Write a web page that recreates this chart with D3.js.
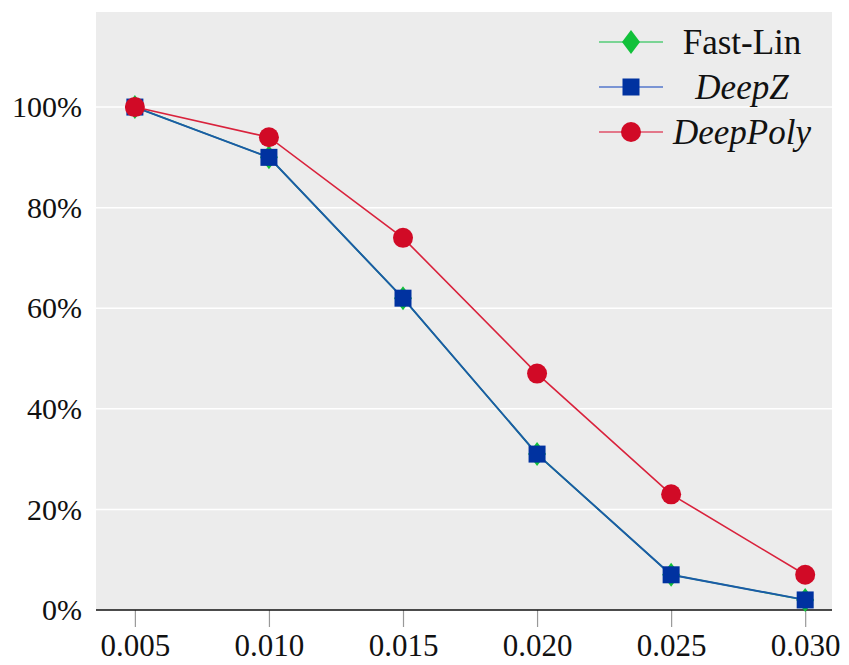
<!DOCTYPE html>
<html>
<head>
<script src="https://cdn.jsdelivr.net/npm/d3@7"></script>
<style>
  body { margin: 0; background: #fff; }
  svg { font-family: "Liberation Serif", serif; }
  .tick text { fill: #111; }
</style>
</head>
<body>
<script>
  var epsilons = [0.005, 0.010, 0.015, 0.020, 0.025, 0.030];
  var fastLin = [100, 90, 62, 31, 7, 2];
  var deepZ = [100, 90, 62, 31, 7, 2];
  var deepPoly = [100, 94, 74, 47, 23, 7];
  var yTicks = [0, 20, 40, 60, 80, 100];
  var seriesNames = ["Fast-Lin", "DeepZ", "DeepPoly"];

  var w = 849, h = 665;
  var pLeft = 96, pRight = 832, pTop = 12, pBottom = 610;

  var x = d3.scaleLinear().domain([0.00355, 0.0310]).range([pLeft, pRight]);
  var y = d3.scaleLinear().domain([0, 118.9]).range([pBottom, pTop]);

  var svg = d3.select("body").append("svg")
    .attr("width", w)
    .attr("height", h);

  svg.append("rect")
    .attr("x", pLeft).attr("y", pTop)
    .attr("width", pRight - pLeft).attr("height", pBottom - pTop)
    .attr("fill", "#ececec");

  // grid
  svg.selectAll("line.grid")
    .data(yTicks.filter(function (d) { return d > 0; }))
    .enter().append("line")
    .attr("class", "grid")
    .attr("x1", pLeft).attr("x2", pRight)
    .attr("y1", function (d) { return y(d); })
    .attr("y2", function (d) { return y(d); })
    .attr("stroke", "#fff").attr("stroke-width", 1.5);

  // x axis
  var xAxis = d3.axisBottom(x)
    .tickValues(epsilons)
    .tickFormat(d3.format(".3f"))
    .tickSize(17)
    .tickPadding(7);
  var gx = svg.append("g")
    .attr("transform", "translate(0," + pBottom + ")")
    .call(xAxis);
  gx.select(".domain").remove();
  gx.selectAll(".tick line").attr("stroke", "#999").attr("stroke-width", 1.2);
  gx.selectAll(".tick text").attr("font-size", 31).attr("font-family", "Liberation Serif");
  svg.append("line")
    .attr("x1", pLeft).attr("x2", pRight)
    .attr("y1", pBottom).attr("y2", pBottom)
    .attr("stroke", "#111").attr("stroke-width", 1.5);

  // y axis
  var yAxis = d3.axisLeft(y)
    .tickValues(yTicks)
    .tickFormat(function (d) { return d + "%"; })
    .tickSize(0)
    .tickPadding(14);
  var gy = svg.append("g")
    .attr("transform", "translate(" + pLeft + ",0)")
    .call(yAxis);
  gy.select(".domain").remove();
  gy.selectAll(".tick text").attr("font-size", 30).attr("font-family", "Liberation Serif");

  var line = d3.line()
    .x(function (d, i) { return x(epsilons[i]); })
    .y(function (d) { return y(d); });

  var colors = {
    "Fast-Lin": { line: "#22c147", mark: "#11c13a", legendLine: "#55cc77" },
    "DeepZ": { line: "#1b5aa8", mark: "#0032a0", legendLine: "#5577cc" },
    "DeepPoly": { line: "#d9223c", mark: "#d10a26", legendLine: "#e05068" }
  };
  var values = { "Fast-Lin": fastLin, "DeepZ": deepZ, "DeepPoly": deepPoly };

  var diamond = "M0,-12L9,0L0,12L-9,0Z";

  function marker(g, name) {
    if (name === "Fast-Lin") {
      g.append("path").attr("d", diamond).attr("fill", colors[name].mark);
    } else if (name === "DeepZ") {
      g.append("rect").attr("x", -8.5).attr("y", -8.5).attr("width", 17).attr("height", 17)
        .attr("fill", colors[name].mark);
    } else {
      g.append("circle").attr("r", 10).attr("fill", colors[name].mark);
    }
  }

  seriesNames.forEach(function (name) {
    svg.append("path")
      .datum(values[name])
      .attr("d", line)
      .attr("fill", "none")
      .attr("stroke", colors[name].line)
      .attr("stroke-width", name === "DeepZ" ? 1.9 : 1.6);
  });

  seriesNames.forEach(function (name) {
    svg.append("g").selectAll("g")
      .data(values[name])
      .enter().append("g")
      .attr("transform", function (d, i) {
        return "translate(" + x(epsilons[i]) + "," + y(d) + ")";
      })
      .each(function () { marker(d3.select(this), name); });
  });

  // legend
  var legend = svg.append("g");
  var legY = [42, 87, 132];
  seriesNames.forEach(function (name, i) {
    var g = legend.append("g").attr("transform", "translate(0," + legY[i] + ")");
    g.append("line").attr("x1", 599).attr("x2", 663)
      .attr("stroke", colors[name].legendLine).attr("stroke-width", 1.6);
    var m = g.append("g").attr("transform", "translate(631,0)");
    marker(m, name);
    g.append("text")
      .attr("x", 742).attr("y", 12)
      .attr("text-anchor", "middle")
      .attr("font-size", 35)
      .attr("font-style", name === "Fast-Lin" ? "normal" : "italic")
      .attr("fill", "#111")
      .text(name);
  });
</script>
</body>
</html>
